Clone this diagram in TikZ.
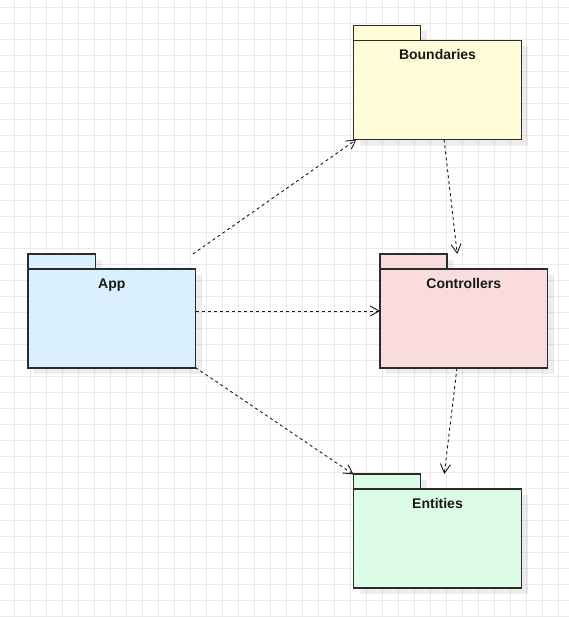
\documentclass[tikz,border=0pt]{standalone}
\usepackage{fontspec}
\setmainfont{Liberation Sans}
\usetikzlibrary{arrows.meta,shadows,calc}

\definecolor{gridline}{HTML}{EBEBEB}
\definecolor{pkgstroke}{HTML}{2B2B2B}
\definecolor{bndfill}{HTML}{FFFCD8}
\definecolor{appfill}{HTML}{DAF0FE}
\definecolor{ctlfill}{HTML}{FADCDD}
\definecolor{entfill}{HTML}{DCFCE6}

\tikzset{
  pkgshadow/.style={drop shadow={shadow xshift=6bp, shadow yshift=-6bp, fill=black, opacity=0.07}},
  pkgframe/.style={rectangle, draw=none, inner sep=0pt, outer sep=0pt},
  pkgtab/.style={draw=pkgstroke, line width=1.2bp, pkgshadow},
  pkgbody/.style={rectangle, draw=pkgstroke, line width=1.2bp, inner sep=0pt, outer sep=0pt, pkgshadow},
  pkgname/.style={font=\bfseries\fontsize{14bp}{16bp}\selectfont, inner sep=0pt, text=black!90},
  dep/.style={draw=black!90, line width=0.9bp, dash pattern=on 3bp off 3bp,
              -{Straight Barb[length=9bp,width=10bp]}}
}

% UML package: name, left, top, width, tab width, fill, title
\newcommand{\umlpkg}[7]{%
  \node[pkgframe, minimum width=#4bp, minimum height=114bp, anchor=north west] (#1) at (#2,#3) {};
  \draw[pkgtab, fill=#6] (#1.north west) rectangle ++(#5,15);
  \node[pkgbody, fill=#6, minimum width=#4bp, minimum height=99bp, anchor=south west] (#1-body) at (#1.south west) {};
  \node[pkgname, anchor=base] (#1-name) at ($(#1-body.north)+(0,19.3)$) {#7};
}

\begin{document}
\begin{tikzpicture}[x=1bp, y=-1bp]
  \useasboundingbox (0,0) rectangle (569,617);
  \fill[white] (0,0) rectangle (569,617);

  % background grid
  \foreach \gx in {14,30,...,566} \draw[gridline, line width=1bp] (\gx,0) -- (\gx,617);
  \foreach \gy in {8,24,...,616} \draw[gridline, line width=1bp] (0,\gy) -- (569,\gy);

  % packages
  \umlpkg{bnd}{353.5}{25.5}{168}{67}{bndfill}{Boundaries}
  \umlpkg{app}{28}{254}{167.5}{67.5}{appfill}{App}
  \umlpkg{ctl}{380}{254}{167.5}{67}{ctlfill}{Controllers}
  \umlpkg{ent}{353.5}{474}{168}{67}{entfill}{Entities}

  % dependencies
  \draw[dep] (app) -- (bnd);
  \draw[dep] (app) -- (ctl);
  \draw[dep] (app) -- (ent);
  \draw[dep] (bnd) -- (ctl);
  \draw[dep] (ctl) -- (ent);
\end{tikzpicture}
\end{document}
